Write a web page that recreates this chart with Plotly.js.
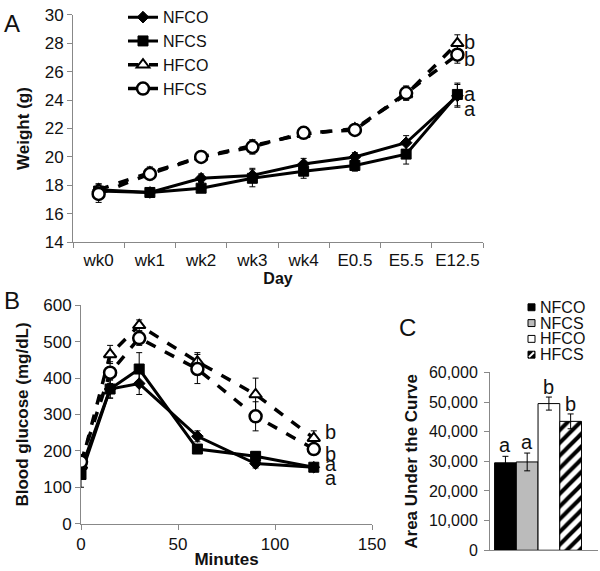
<!DOCTYPE html>
<html><head><meta charset="utf-8">
<script src="https://cdn.plot.ly/plotly-3.0.1.min.js"></script>
<style>html,body{margin:0;padding:0;background:#fff}</style>
</head><body><div id="chart" style="width:600px;height:571px"></div>
<script>
// Panel A: body weight
const days = ['wk0','wk1','wk2','wk3','wk4','E0.5','E5.5','E12.5'];
const wNFCO = [17.7,17.5,18.5,18.7,19.5,20.0,21.0,24.3];
const wNFCS = [17.6,17.5,17.8,18.5,19.0,19.4,20.2,24.4];
const wHFCO = [17.7,18.9,20.0,20.8,21.6,22.0,24.4,28.0];
const wHFCS = [17.4,18.8,20.0,20.7,21.7,21.9,24.5,27.2];
const wNFCOerr = [0.4,0.3,0.3,0.5,0.4,0.3,0.5,0.8];
const wNFCSerr = [0.3,0.3,0.3,0.6,0.5,0.4,0.7,0.8];
const wHFCOerr = [0.4,0.4,0.3,0.4,0.3,0.3,0.4,0.6];
const wHFCSerr = [0.6,0.4,0.3,0.5,0.3,0.3,0.5,0.6];
// Panel B: glucose tolerance
const minutes = [0,15,30,60,90,120];
const gNFCO = [150,370,385,240,165,155];
const gNFCS = [135,370,425,205,185,155];
const gHFCO = [160,465,545,445,355,235];
const gHFCS = [170,415,510,425,295,205];
const gNFCOerr = [20,25,30,15,12,10];
const gNFCSerr = [35,25,45,12,12,10];
const gHFCOerr = [25,25,15,25,45,20];
const gHFCSerr = [20,30,20,40,40,15];
// Panel C: AUC
const groups = ['NFCO','NFCS','HFCO','HFCS'];
const auc = [29500,29800,49500,43500];
const aucErr = [2200,3000,2200,2500];
const aucColors = ['#000000','#bbbbbb','#ffffff','#ffffff'];
const aucPattern = ['','','','/'];
// significance letters
const sigA = ['b','b','a','a'];
const sigAy = [28.1,26.9,24.4,23.4];
const sigB = ['b','b','a','a'];
const sigBy = [252,192,165,125];
const sigC = ['a','a','b','b'];
const sigCy = [35500,36500,55000,49500];

const errStyle = (arr)=>({type:'data',array:arr,visible:true,color:'#000',thickness:1,width:3});
const mk = {
  NFCO:{symbol:'diamond',size:9,color:'#000',line:{color:'#000',width:1}},
  NFCS:{symbol:'square',size:10,color:'#000',line:{color:'#000',width:1}},
  HFCO:{symbol:'triangle-up',size:11,color:'#fff',line:{color:'#000',width:2}},
  HFCS:{symbol:'circle',size:12,color:'#fff',line:{color:'#000',width:2.5}}
};
const ln = {
  NFCO:{color:'#000',width:3},
  NFCS:{color:'#000',width:3},
  HFCO:{color:'#000',width:3.5,dash:'dash'},
  HFCS:{color:'#000',width:3.5,dash:'dash'}
};
const traces = [];
const A = {NFCO:[wNFCO,wNFCOerr],NFCS:[wNFCS,wNFCSerr],HFCO:[wHFCO,wHFCOerr],HFCS:[wHFCS,wHFCSerr]};
for (const k of ['NFCO','NFCS','HFCO','HFCS']) {
  traces.push({x:days,y:A[k][0],error_y:errStyle(A[k][1]),type:'scatter',mode:'lines+markers',
    name:k,marker:mk[k],line:ln[k],xaxis:'x',yaxis:'y'});
}
const B = {NFCO:[gNFCO,gNFCOerr],NFCS:[gNFCS,gNFCSerr],HFCO:[gHFCO,gHFCOerr],HFCS:[gHFCS,gHFCSerr]};
for (const k of ['NFCO','NFCS','HFCO','HFCS']) {
  traces.push({x:minutes,y:B[k][0],error_y:errStyle(B[k][1]),type:'scatter',mode:'lines+markers',
    name:k,marker:mk[k],line:ln[k],xaxis:'x2',yaxis:'y2',showlegend:false});
}
groups.forEach((g,i)=>{
  traces.push({x:[g],y:[auc[i]],type:'bar',name:g,xaxis:'x3',yaxis:'y3',showlegend:false,
    width:1,error_y:errStyle([aucErr[i]]),
    marker:{color:aucColors[i],line:{color:'#000',width:1},
      pattern:{shape:aucPattern[i],fgcolor:'#000',bgcolor:'#fff',size:9,solidity:0.45}}});
});

const FAM = 'Liberation Sans, Arial, sans-serif';
const font = {family:FAM,size:17,color:'#111'};
const tfont = (s)=>({family:FAM,size:s,color:'#111',weight:'bold'});
const axBase = {showgrid:false,zeroline:false,showline:true,linecolor:'#888',linewidth:1,
  ticks:'outside',ticklen:5,tickcolor:'#888',tickfont:font,tickangle:0};

const annotations = [];
const shapes = [];
const mkAnn = (xref,yref,xs,ys,texts,xshift)=>texts.forEach((t,i)=>annotations.push({
  xref,yref,x:xs[i],y:ys[i],text:t,showarrow:false,xanchor:'left',xshift:xshift,font:{...font,size:20}}));
mkAnn('x','y',sigA.map(()=>days[days.length-1]),sigAy,sigA,5);
mkAnn('x2','y2',sigB.map(()=>minutes[minutes.length-1]),sigBy,sigB,9);
sigC.forEach((t,i)=>annotations.push({xref:'x3',yref:'y3',x:groups[i],y:sigCy[i],text:t,showarrow:false,
  font:{...font,size:20}}));
[['A',0.003,0.970],['B',0.003,0.480],['C',0.662,0.432]].forEach(([t,x,y])=>annotations.push({
  xref:'paper',yref:'paper',x,y,text:t,showarrow:false,xanchor:'left',yanchor:'middle',font:{...font,size:24}}));

// manual compact legend for panel C
const legRows = [304,320,336,352];
const W=600,H=571;
groups.forEach((g,i)=>{
  const yc = legRows[i];
  const x0=528,x1=535,y0=yc-3.5,y1=yc+3.5;
  const fill = i===0||i===3 ? '#000' : (i===1 ? '#bbb' : '#fff');
  shapes.push({type:'rect',xref:'paper',yref:'paper',x0:x0/W,x1:x1/W,y0:1-y1/H,y1:1-y0/H,
    fillcolor:fill,line:{color:'#000',width:1}});
  if (i===3) shapes.push({type:'line',xref:'paper',yref:'paper',x0:(x0+1)/W,x1:(x1-1)/W,y0:1-(y1-1)/H,y1:1-(y0+1)/H,
    line:{color:'#fff',width:2}});
  annotations.push({xref:'paper',yref:'paper',x:538/W,y:1-yc/H,text:g,showarrow:false,xanchor:'left',
    yanchor:'middle',font:{...font,size:16}});
});

const layout = {
  width:600,height:571,margin:{l:0,r:0,t:0,b:0},paper_bgcolor:'#fff',plot_bgcolor:'#fff',
  font:font,showlegend:true,bargap:0,
  xaxis:{...axBase,domain:[0.1217,0.805],anchor:'y',type:'category',range:[-0.5,7.5],tickson:'boundaries',
    ticklabelstandoff:2,title:{text:'Day',font:tfont(16),standoff:4}},
  yaxis:{...axBase,domain:[0.583,0.986],anchor:'x',range:[14,30],dtick:2,
    title:{text:'Weight (g)',font:tfont(17),standoff:10}},
  xaxis2:{...axBase,domain:[0.135,0.62],anchor:'y2',range:[0,150],dtick:50,
    title:{text:'Minutes',font:tfont(17),standoff:0}},
  yaxis2:{...axBase,domain:[0.084,0.471],anchor:'x2',range:[0,600],dtick:100,
    title:{text:'Blood glucose (mg/dL)',font:tfont(17),standoff:10}},
  xaxis3:{...axBase,domain:[0.8167,0.9967],anchor:'y3',type:'category',range:[-0.71,4.26],
    showticklabels:false,ticks:''},
  yaxis3:{...axBase,domain:[0.0368,0.352],anchor:'x3',range:[0,60000],dtick:10000,tickformat:',d',
    tickfont:{...font,size:16},ticklabelstandoff:3,
    title:{text:'Area Under the Curve',font:tfont(17),standoff:6}},
  legend:{x:0.205,y:1.012,xanchor:'left',yanchor:'top',bgcolor:'rgba(0,0,0,0)',font:{...font,size:16},
    tracegroupgap:0,itemwidth:30},
  annotations, shapes
};
Plotly.newPlot('chart',traces,layout,{staticPlot:true});
</script></body></html>
